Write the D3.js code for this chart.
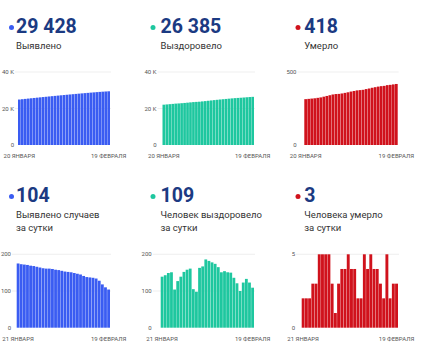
<!DOCTYPE html>
<html lang="ru">
<head>
  <meta charset="UTF-8">
  <title>Коронавирус: статистика</title>
  <script src="https://d3js.org/d3.v7.min.js"></script>
  <style>
    body, html {
      margin: 0;
      padding: 0;
      background: #fff;
    }
    svg {
      display: block;
      font-family: Roboto, Arial, sans-serif;
    }
    .big {
      font-size: 19.5px;
      font-weight: 700;
      fill: #1b3a82;
    }
    .caption {
      font-size: 9.5px;
      fill: #333;
    }
    .tick-y, .tick-x {
      font-size: 6px;
      fill: #555;
    }
    .grid {
      stroke: #ebebeb;
      stroke-width: 0.8;
    }
  </style>
</head>
<body>
  <svg width="430" height="353"></svg>

  <script>
    // total values (20 jan .. 19 feb)
    const totalDays = ["20 ЯНВАРЯ", "21", "22", "23", "24", "25", "26", "27", "28", "29", "30", "31",
      "1", "2", "3", "4", "5", "6", "7", "8", "9", "10", "11", "12", "13", "14", "15", "16", "17", "18", "19 ФЕВРАЛЯ"];
    const casesTotal = [24913, 25088, 25261, 25433, 25604, 25773, 25941, 26107, 26271, 26433, 26594, 26755,
      26915, 27073, 27230, 27385, 27538, 27690, 27841, 27990, 28137, 28282, 28423, 28561, 28698, 28834,
      28968, 29096, 29214, 29324, 29428];
    const recoveredTotal = [22093, 22232, 22375, 22524, 22675, 22779, 22906, 23045, 23197, 23355, 23516, 23621,
      23719, 23882, 24049, 24235, 24417, 24595, 24769, 24934, 25085, 25239, 25390, 25540, 25676, 25797,
      25897, 26020, 26153, 26276, 26385];
    const deathsTotal = [314, 316, 318, 320, 323, 326, 331, 336, 341, 346, 349, 350,
      353, 357, 361, 366, 370, 374, 376, 378, 383, 387, 392, 396, 400, 403, 405, 410, 412, 415, 418];

    // daily values (21 jan .. 19 feb)
    const dailyDays = totalDays.slice(1).map((d, i) => i === 0 ? "21 ЯНВАРЯ" : d);
    const casesDaily = [175, 173, 172, 171, 169, 168, 166, 164, 162, 161, 161, 160, 158, 157, 155,
      153, 152, 151, 149, 147, 145, 141, 138, 137, 136, 134, 128, 118, 110, 104];
    const recoveredDaily = [139, 143, 149, 151, 104, 127, 139, 152, 158, 161, 105, 98, 163, 167, 186,
      182, 178, 174, 165, 151, 154, 151, 150, 136, 121, 100, 123, 133, 123, 109];
    const deathsDaily = [2, 2, 2, 3, 3, 5, 5, 5, 5, 3, 1, 3, 4, 4, 5,
      4, 4, 2, 2, 5, 4, 5, 4, 4, 3, 2, 5, 2, 3, 3];

    const captions = [
      ["Выявлено"], ["Выздоровело"], ["Умерло"],
      ["Выявлено случаев", "за сутки"], ["Человек выздоровело", "за сутки"], ["Человека умерло", "за сутки"]
    ];
    const yMax = [40000, 40000, 500, 200, 200, 5];
    const yTicks = [[0, 20000, 40000], [0, 20000, 40000], [0, 500], [0, 100, 200], [0, 100, 200], [0, 5]];

    const blue = "#3a5cf2", teal = "#1ec79f", red = "#d0121c";

    const panels = [
      { days: totalDays, values: casesTotal, color: blue },
      { days: totalDays, values: recoveredTotal, color: teal },
      { days: totalDays, values: deathsTotal, color: red },
      { days: dailyDays, values: casesDaily, color: blue },
      { days: dailyDays, values: recoveredDaily, color: teal },
      { days: dailyDays, values: deathsDaily, color: red }
    ];

    // layout
    const layout = [
      { tx: 16, dot: 11.5, numY: 33.3, l: 18, r: 110, lab: 14, top: 72, bottom: 145 },
      { tx: 160.5, dot: 153, numY: 33.3, l: 162.5, r: 254, lab: 156.5, top: 72, bottom: 145 },
      { tx: 304.3, dot: 298, numY: 33.3, l: 304.3, r: 397.7, lab: 296.5, top: 72, bottom: 145 },
      { tx: 16, dot: 11.5, numY: 202.3, l: 16.7, r: 110, lab: 11, top: 254.3, bottom: 327.7 },
      { tx: 160.5, dot: 153, numY: 202.3, l: 160.7, r: 254, lab: 151.7, top: 254.3, bottom: 327.7 },
      { tx: 304.3, dot: 298, numY: 202.3, l: 301.7, r: 398, lab: 295, top: 254.3, bottom: 327.7 }
    ];

    const svg = d3.select("svg");
    const fmtBig = v => d3.format(",")(v).replace(/,/g, " ");
    const fmtTick = v => v >= 1000 ? (v / 1000) + " K" : v;

    panels.forEach((p, i) => {
      const L = layout[i];
      const g = svg.append("g");
      const last = p.values[p.values.length - 1];

      g.append("circle")
        .attr("cx", L.dot)
        .attr("cy", L.numY - 5.8)
        .attr("r", 2.5)
        .attr("fill", p.color);

      g.append("text")
        .attr("class", "big")
        .attr("x", L.tx)
        .attr("y", L.numY)
        .text(fmtBig(last));

      captions[i].forEach((line, k) => {
        g.append("text")
          .attr("class", "caption")
          .attr("x", L.tx)
          .attr("y", L.numY + 16 + k * 12.8)
          .text(line);
      });

      const x = d3.scaleBand()
        .domain(d3.range(p.values.length))
        .range([L.l, L.r])
        .paddingInner(0.1);

      const y = d3.scaleLinear()
        .domain([0, yMax[i]])
        .range([L.bottom, L.top]);

      // grid lines
      g.selectAll(".grid")
        .data(yTicks[i].filter(t => t > 0))
        .enter().append("line")
        .attr("class", "grid")
        .attr("x1", L.lab + 1)
        .attr("x2", L.r + 1)
        .attr("y1", d => y(d))
        .attr("y2", d => y(d));

      g.selectAll(".tick-y")
        .data(yTicks[i])
        .enter().append("text")
        .attr("class", "tick-y")
        .attr("x", L.lab)
        .attr("y", d => y(d))
        .attr("dy", "0.35em")
        .attr("text-anchor", "end")
        .text(fmtTick);

      g.selectAll(".bar")
        .data(p.values)
        .enter().append("rect")
        .attr("x", (d, k) => x(k))
        .attr("width", x.bandwidth())
        .attr("y", d => y(d))
        .attr("height", d => L.bottom - y(d))
        .attr("fill", p.color);

      // first and last date
      const n = p.values.length;
      [0, n - 1].forEach(k => {
        g.append("text")
          .attr("class", "tick-x")
          .attr("x", x(k) + x.bandwidth() / 2)
          .attr("y", L.bottom + 13.3)
          .attr("text-anchor", "middle")
          .text(p.days[k]);
      });
    });
  </script>
</body>
</html>
